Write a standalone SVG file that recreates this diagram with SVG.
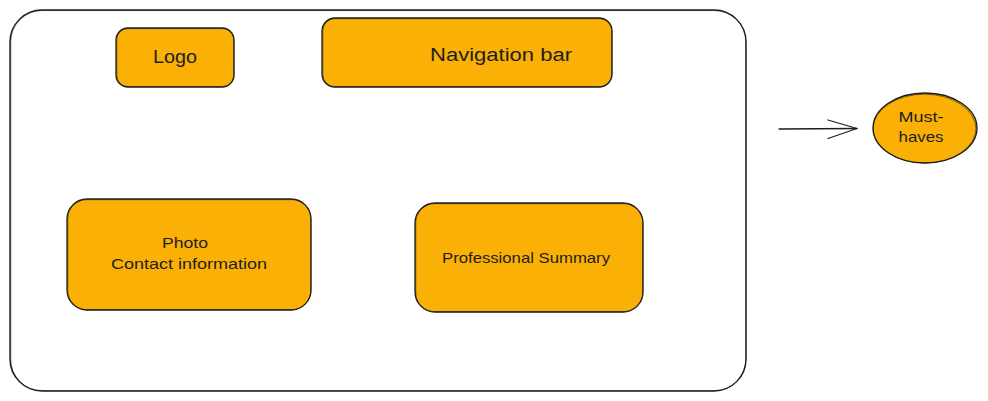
<svg xmlns="http://www.w3.org/2000/svg" width="988" height="401" viewBox="0 0 988 401">
  <style>
    .frame { fill: #ffffff; stroke: #1e1e1e; stroke-width: 1.4; }
    .box { fill: #fab005; stroke: #1e1e1e; stroke-width: 1.3; }
    .sketch { fill: none; stroke: #1e1e1e; stroke-width: 0.7; opacity: 0.8; }
    .lbl { font-family: "Liberation Sans", "DejaVu Sans", sans-serif; fill: #1e1e1e; text-anchor: middle; }
    .conn { fill: none; stroke: #1e1e1e; stroke-width: 1.3; stroke-linecap: round; stroke-linejoin: round; }
  </style>
  <rect width="988" height="401" fill="#ffffff"/>

  <g id="page">
    <rect class="frame" x="10" y="10" width="736" height="381" rx="32"/>
    <rect class="sketch" x="10.8" y="10.6" width="735" height="380" rx="31"/>
  </g>

  <g id="logo">
    <rect class="box" x="116" y="28" width="118" height="59" rx="12"/>
    <rect class="sketch" x="116.8" y="28.6" width="117" height="58" rx="11"/>
    <text class="lbl" x="175" y="63" font-size="18" textLength="44" lengthAdjust="spacingAndGlyphs">Logo</text>
  </g>

  <g id="navigation-bar">
    <rect class="box" x="322" y="18" width="290" height="69" rx="13"/>
    <rect class="sketch" x="322.8" y="18.7" width="289" height="68" rx="12"/>
    <text class="lbl" x="501" y="61" font-size="18" textLength="142" lengthAdjust="spacingAndGlyphs">Navigation bar</text>
  </g>

  <g id="photo-contact">
    <rect class="box" x="67" y="199" width="244" height="111" rx="20"/>
    <rect class="sketch" x="67.8" y="199.7" width="243" height="110" rx="19"/>
    <text class="lbl" x="185" y="248" font-size="14.5" textLength="46" lengthAdjust="spacingAndGlyphs">Photo</text>
    <text class="lbl" x="189" y="269" font-size="14.5" textLength="156" lengthAdjust="spacingAndGlyphs">Contact information</text>
  </g>

  <g id="professional-summary">
    <rect class="box" x="415" y="203" width="228" height="109" rx="20"/>
    <rect class="sketch" x="415.8" y="203.7" width="227" height="108" rx="19"/>
    <text class="lbl" x="526" y="263" font-size="14.5" textLength="168" lengthAdjust="spacingAndGlyphs">Professional Summary</text>
  </g>

  <g id="connectors">
    <path class="conn" d="M779 129 L857 128.5"/>
    <path class="conn" d="M828 120 L857 128.5 L828 138.5"/>
  </g>

  <g id="must-haves">
    <ellipse class="box" cx="925" cy="128" rx="52" ry="35"/>
    <ellipse class="sketch" cx="924.5" cy="128.6" rx="51.4" ry="34.4"/>
    <text class="lbl" x="921" y="122" font-size="14.5" textLength="45" lengthAdjust="spacingAndGlyphs">Must-</text>
    <text class="lbl" x="921" y="142" font-size="14.5" textLength="45" lengthAdjust="spacingAndGlyphs">haves</text>
  </g>
</svg>
